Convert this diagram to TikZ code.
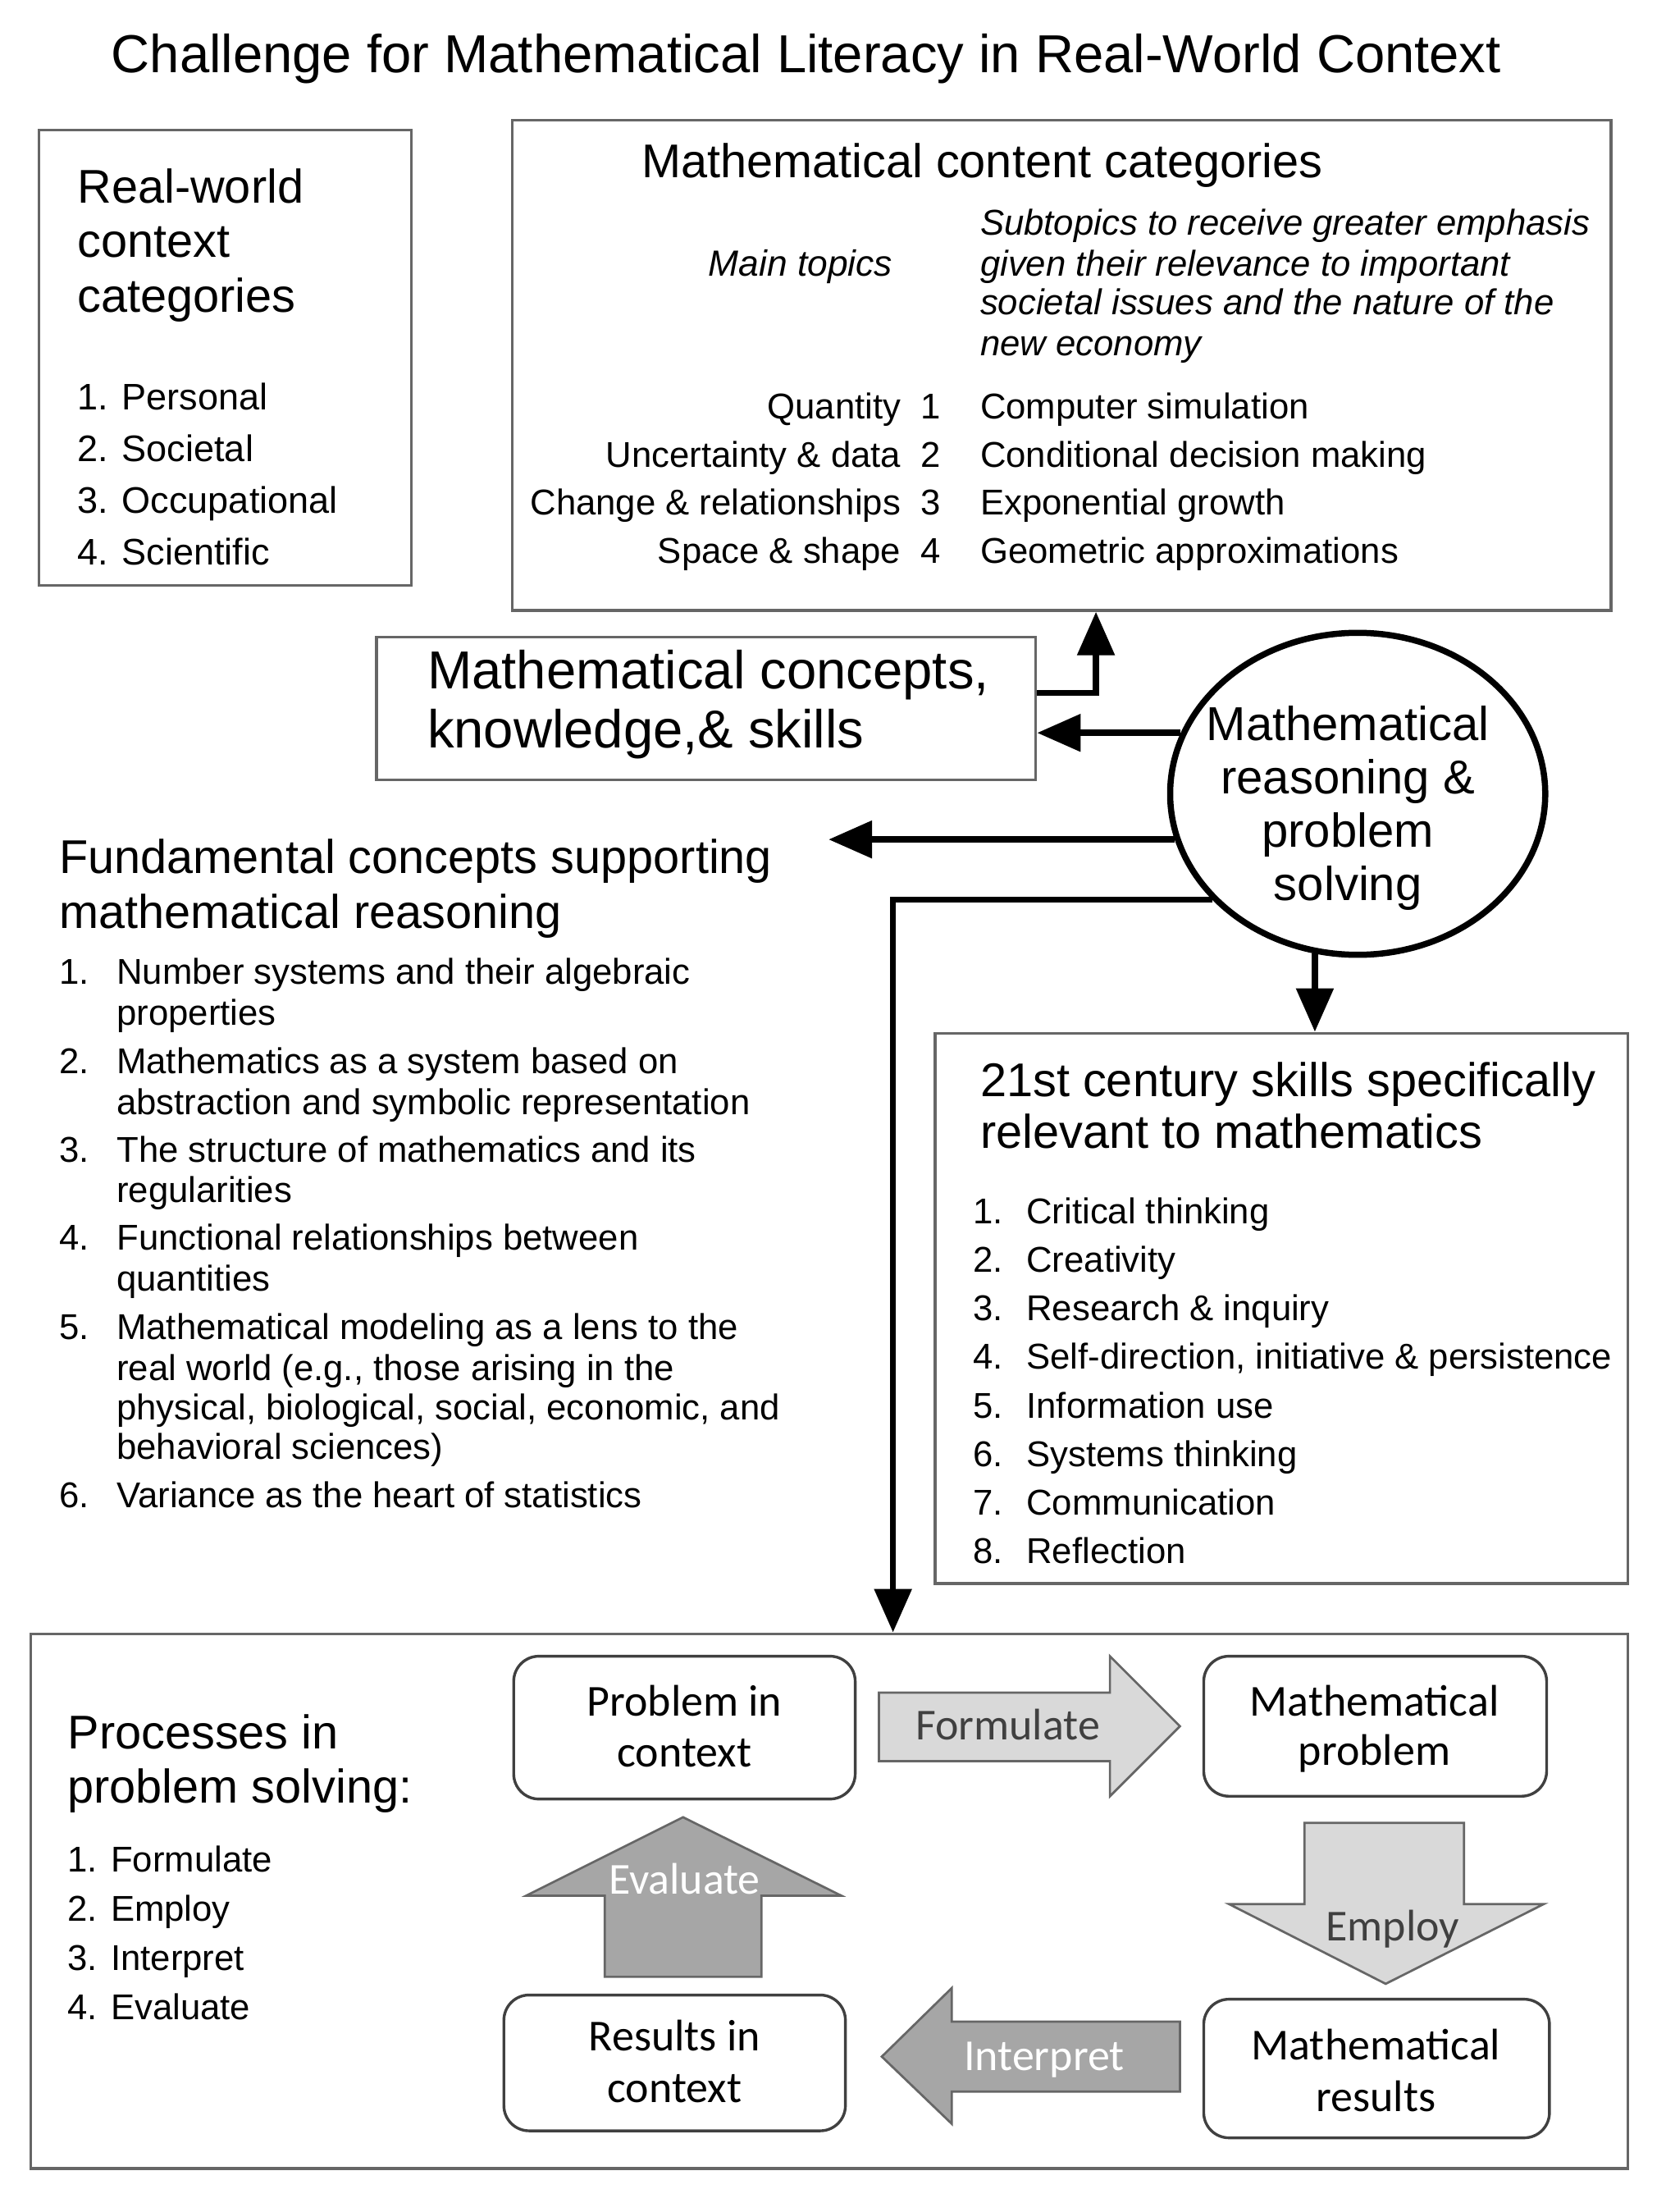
\documentclass[tikz,border=0pt]{standalone}
\usepackage{fontspec}
\setmainfont{Liberation Sans}
\newfontfamily\carlito{Carlito}
\usetikzlibrary{arrows.meta,shapes.geometric,fit}
\definecolor{lightarrow}{HTML}{D9D9D9}
\definecolor{darkarrow}{HTML}{A6A6A6}
\definecolor{arrowtext}{HTML}{404040}
\begin{document}
\begin{tikzpicture}[x=0.5pt,y=-0.5pt,
  box/.style={draw=black!60, line width=1pt, inner sep=0pt},
  rbox/.style={draw=black!75, line width=1pt, rounded corners=9pt, inner sep=0pt},
  txt/.style={inner sep=0pt, anchor=base west},
  txtc/.style={inner sep=0pt, anchor=base},
  txte/.style={inner sep=0pt, anchor=base east},
  titlef/.style={font=\fontsize{19.1}{23}\selectfont},
  headf/.style={font=\fontsize{16.9}{20}\selectfont},
  lstf/.style={font=\fontsize{12.8}{15}\selectfont},
  bigf/.style={font=\fontsize{19.1}{23}\selectfont},
  circf/.style={font=\fontsize{17}{19}\selectfont},
  procf/.style={font=\carlito\fontsize{15.8}{18}\selectfont},
  conn/.style={line width=2.2pt, -{Triangle[length=15.5pt,width=13pt]}},
  blockl/.style={fill=lightarrow, draw=black!60, line width=0.8pt},
  blockd/.style={fill=darkarrow, draw=black!60, line width=0.8pt}]
\useasboundingbox (0,0) rectangle (1190,1580);

% title
\node[txtc,titlef] (title) at (576,52) {Challenge for Mathematical Literacy in Real-World Context};

% real-world box
\node[box, fit={(28,93) (294,418)}] (rw) {};
\node[txt,headf] (rwh1) at (55,145) {Real-world};
\node[txt,headf] (rwh2) at (55,184) {context};
\node[txt,headf] (rwh3) at (55,223) {categories};
\foreach \t [count=\i] in {Personal, Societal, Occupational, Scientific}
  \node[txt,font=\fontsize{13.2}{15}\selectfont] (rwl\i) at (55,{255.5+37*\i}) {\i. \t};

% content box
\node[box, fit={(366,86) (1151,436)}] (content) {};
\node[txt,headf] (conth) at (458,127) {Mathematical content categories};
\node[txte,lstf,font=\fontsize{13}{15}\selectfont\itshape] (main) at (638,197) {Main topics};
\foreach \y/\t [count=\i] in {168/Subtopics to receive greater emphasis, 197/given their relevance to important, 225/societal issues and the nature of the, 254/new economy}
  \node[txt,font=\fontsize{12.8}{15}\selectfont\itshape] (sub\i) at (700,\y) {\t};
\foreach \a/\b [count=\i] in {Quantity/Computer simulation, Uncertainty \& data/Conditional decision making, Change \& relationships/Exponential growth, Space \& shape/Geometric approximations}{
  \node[txte,lstf] (ml\i) at (644,{264.5+34.5*\i}) {\a};
  \node[txtc,lstf] (mn\i) at (665,{264.5+34.5*\i}) {\i};
  \node[txt,lstf] (ms\i) at (700,{264.5+34.5*\i}) {\b};
}

% concepts box
\node[box, fit={(269,455) (740,557)}] (concepts) {};
\node[txt,bigf] (con1) at (305,492) {Mathematical concepts,};
\node[txt,bigf] (con2) at (305,534) {knowledge,\& skills};

% ellipse
\node[draw, ellipse, line width=2.2pt, minimum width=134pt, minimum height=115pt, inner sep=0pt] (circ) at (970,567) {};
\node[txtc,circf] (ct1) at (963,529) {Mathematical};
\node[txtc,circf] (ct2) at (963,567) {reasoning \&};
\node[txtc,circf] (ct3) at (963,605) {problem};
\node[txtc,circf] (ct4) at (963,643) {solving};

% fundamental concepts
\node[txt,headf] (fch1) at (42,624) {Fundamental concepts supporting};
\node[txt,headf] (fch2) at (42,663) {mathematical reasoning};
\foreach \y/\n in {703/1,767/2,830/3,893/4,957/5,1077/6}
  \node[txt,lstf] (fcn\n) at (42,\y) {\n.};
\foreach \y/\t [count=\i] in {703/{Number systems and their algebraic}, 732/{properties}, 767/{Mathematics as a system based on}, 796/{abstraction and symbolic representation}, 830/{The structure of mathematics and its}, 859/{regularities}, 893/{Functional relationships between}, 922/{quantities}, 957/{Mathematical modeling as a lens to the}, 986/{real world (e.g., those arising in the}, 1014/{physical, biological, social, economic, and}, 1042/{behavioral sciences)}, 1077/{Variance as the heart of statistics}}
  \node[txt,lstf] (fcl\i) at (83,\y) {\t};

% 21st century box
\node[box, fit={(668,738) (1163,1131)}] (skills) {};
\node[txt,headf] (skh1) at (700,783) {21st century skills specifically};
\node[txt,headf] (skh2) at (700,820) {relevant to mathematics};
\foreach \t [count=\i] in {Critical thinking, Creativity, Research \& inquiry, {Self-direction, initiative \& persistence}, Information use, Systems thinking, Communication, Reflection}{
  \node[txt,lstf] (skn\i) at (695,{839.3+34.7*\i}) {\i.};
  \node[txt,lstf] (skl\i) at (733,{839.3+34.7*\i}) {\t};
}

% processes box
\node[box, fit={(22,1167) (1163,1549)}] (proc) {};
\node[txt,headf] (prh1) at (48,1249) {Processes in};
\node[txt,headf] (prh2) at (48,1288) {problem solving:};
\foreach \t [count=\i] in {Formulate, Employ, Interpret, Evaluate}
  \node[txt,lstf] (prl\i) at (48,{1301.5+35.3*\i}) {\i. \t};

% connectors
\coordinate (k1) at (783,495);
\draw[conn] (concepts.east |- k1) -- (k1) -- (k1 |- content.south);
\draw[conn] (circ.161) -- (circ.161 -| concepts.east);
\coordinate (fctip) at (592,600);
\draw[conn] (circ.194) -- (circ.194 -| fctip);
\coordinate (k4) at (638,641);
\draw[conn] (circ.216) -- (circ.216 -| k4) -- (k4 |- proc.north);
\draw[conn] (circ.255) -- (circ.255 |- skills.north);

% block arrows
\draw[blockl] (628,1209) -- (793,1209) -- (793,1183) -- (843,1233) -- (793,1283) -- (793,1258) -- (628,1258) -- cycle;
\draw[blockl] (932,1302) -- (1046,1302) -- (1046,1360) -- (1103,1360) -- (990,1417) -- (878,1360) -- (932,1360) -- cycle;
\draw[blockd] (843,1444) -- (680,1444) -- (680,1420) -- (630,1469) -- (680,1517) -- (680,1494) -- (843,1494) -- cycle;
\draw[blockd] (432,1412) -- (432,1354) -- (376,1354) -- (488,1298) -- (601,1354) -- (544,1354) -- (544,1412) -- cycle;
\node[txtc,procf,text=arrowtext] (formulate) at (720,1243) {Formulate};
\node[txtc,procf,text=arrowtext] (employ) at (995,1386) {Employ};
\node[txtc,procf,text=white] (interpret) at (746,1479) {Interpret};
\node[txtc,procf,text=white] (evaluate) at (489,1353) {Evaluate};

% rounded boxes
\node[rbox, fit={(367,1183) (611,1285)}] (pic) {};
\node[txtc,procf] (pic1) at (489,1226) {Problem in};
\node[txtc,procf] (pic2) at (489,1262) {context};
\node[rbox, fit={(860,1183) (1105,1283)}] (mp) {};
\node[txtc,procf] (mp1) at (982,1226) {Mathematical};
\node[txtc,procf] (mp2) at (982,1261) {problem};
\node[rbox, fit={(360,1425) (604,1522)}] (ric) {};
\node[txtc,procf] (ric1) at (482,1465) {Results in};
\node[txtc,procf] (ric2) at (482,1502) {context};
\node[rbox, fit={(860,1428) (1107,1527)}] (mr) {};
\node[txtc,procf] (mr1) at (983,1471) {Mathematical};
\node[txtc,procf] (mr2) at (983,1508) {results};
\end{tikzpicture}
\end{document}
